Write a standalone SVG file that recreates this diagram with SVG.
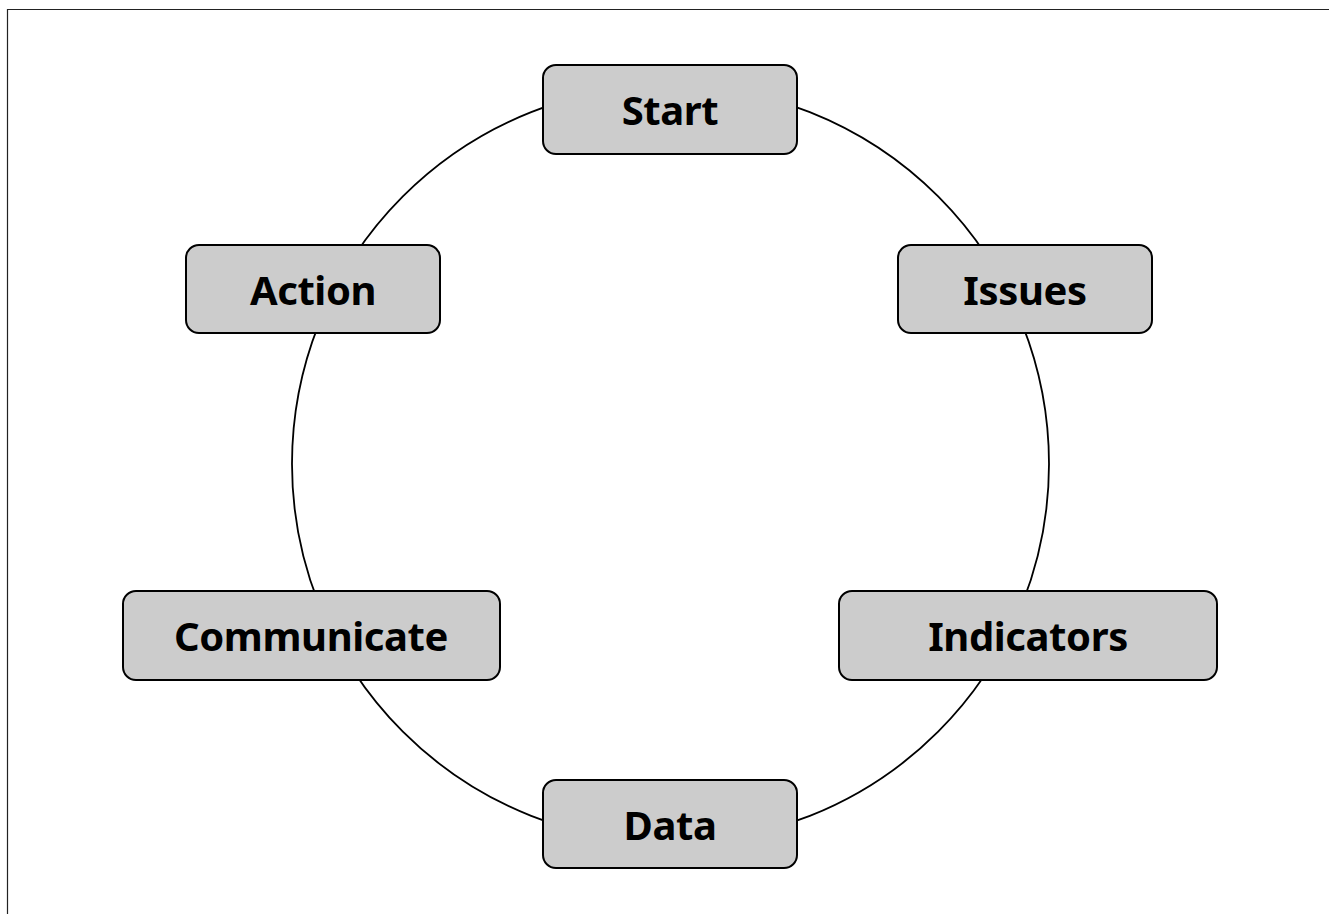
<svg xmlns="http://www.w3.org/2000/svg" width="1329" height="914" viewBox="0 0 1329 914">
<style>
.box{fill:#cccccc;stroke:#000;stroke-width:2}
.lbl{font-family:"Noto Sans","Open Sans",sans-serif;font-weight:bold;font-size:40px;letter-spacing:-0.4px;fill:#000;text-anchor:middle;dominant-baseline:central}
</style>
<rect width="1329" height="914" fill="#fff"/>
<path d="M7.5 914 V9.5 H1329" fill="none" stroke="#222" stroke-width="1.2"/>
<g id="connectors">
<circle cx="670.5" cy="464" r="378.5" fill="none" stroke="#000" stroke-width="1.8"/>
</g>
<g id="start"><rect class="box" x="543" y="65" width="254" height="89" rx="13"/><text class="lbl" x="670" y="109">Start</text></g>
<g id="issues"><rect class="box" x="898" y="245" width="254" height="88" rx="13"/><text class="lbl" x="1025" y="289">Issues</text></g>
<g id="indicators"><rect class="box" x="839" y="591" width="378" height="89" rx="13"/><text class="lbl" x="1028" y="635">Indicators</text></g>
<g id="data"><rect class="box" x="543" y="780" width="254" height="88" rx="13"/><text class="lbl" x="670" y="824">Data</text></g>
<g id="communicate"><rect class="box" x="123" y="591" width="377" height="89" rx="13"/><text class="lbl" x="311" y="635">Communicate</text></g>
<g id="action"><rect class="box" x="186" y="245" width="254" height="88" rx="13"/><text class="lbl" x="313" y="289">Action</text></g>
</svg>
